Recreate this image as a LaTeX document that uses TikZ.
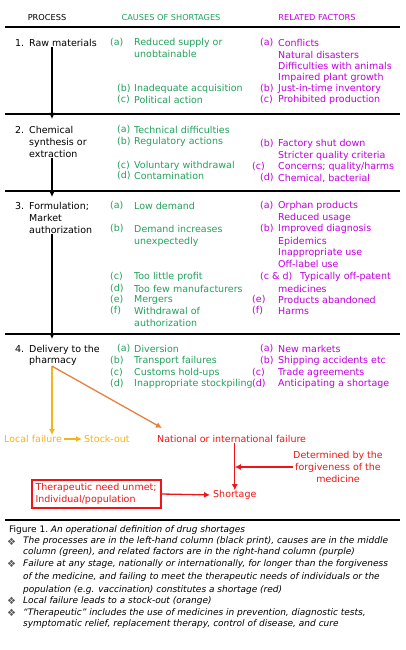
\documentclass[tikz,border=0pt]{standalone}
\usepackage{fontspec}
\setmainfont{DejaVu Sans}
\usetikzlibrary{arrows.meta,positioning}
\definecolor{cgreen}{RGB}{34,160,92}
\definecolor{cpurple}{RGB}{190,0,220}
\definecolor{cred}{RGB}{240,20,20}
\definecolor{corange}{RGB}{232,128,60}
\definecolor{cyellow}{RGB}{245,180,25}

\begin{document}
\begin{tikzpicture}[x=1pt,y=-1pt,
  txt/.style={anchor=west,inner sep=0pt,font=\fontsize{9.5}{11.7}\selectfont},
  proc/.style={txt,align=left},
  cause/.style={txt,text=cgreen},
  fact/.style={txt,text=cpurple},
  hdr/.style={inner sep=0pt,font=\fontsize{8.2}{9}\selectfont},
  captext/.style={anchor=west,inner sep=0pt,font=\fontsize{9}{10}\selectfont},
  rule/.style={line width=1.6pt},
  flow/.style={line width=1.3pt,-{Latex[length=6pt,width=6pt]}}]
 \useasboundingbox (0,0) rectangle (405,650);
 % column heads and rules
 \node[hdr] (hp) at (47,18) {PROCESS};
 \node[hdr,text=cgreen] (hc) at (171,18) {CAUSES OF SHORTAGES};
 \node[hdr,text=cpurple] (hf) at (317,18) {RELATED FACTORS};
 \foreach \y in {27,114,191,334} \draw[rule] (5,\y)--(400,\y);
 \draw[line width=1.3pt] (5,520)--(400,520);
 % process column
 \foreach \y/\n in {43/1,130/2,206/3,349/4} \node[proc] (n\n) at (15,\y) {\n.};
 \node[proc] (p1) at (29,43) {Raw materials};
 \node[proc] (p2) at (29,142) {Chemical\\synthesis or\\extraction};
 \node[proc] (p3) at (29,218) {Formulation;\\Market\\authorization};
 \node[proc] (p4) at (29,355.5) {Delivery to the\\pharmacy};
 \coordinate (ax) at (52,0);
 \coordinate (b1) at (52,119);
 \coordinate (b2) at (52,197);
 \coordinate (b3) at (52,339);
 \draw[flow] (p1.south -| ax)--(b1);
 \draw[flow] (p2.south -| ax)--(b2);
 \draw[flow] (p3.south -| ax)--(b3);
 % causes (green)
 \foreach \y/\x/\l [count=\i] in {43/110/(a),89/117/(b),100/117/(c),
   130/117/(a),142/117/(b),166/117/(c),176/117/(d),
   206/110/(a),229/110/(b),277/110/(c),289/110/(d),300/110/(e),311/110/(f),
   349/117/(a),361/110/(b),373/110/(c),384/110/(d)}
   \node[cause] (cl\i) at (\x,\y) {\l};
 \foreach \y/\t [count=\i] in {43/Reduced supply or,54/unobtainable,
   89/Inadequate acquisition,100/Political action,
   130/Technical difficulties,142/Regulatory actions,
   166/Voluntary withdrawal,176/Contamination,
   206/Low demand,229/Demand increases,242/unexpectedly,
   277/Too little profit,289/Too few manufacturers,300/Mergers,
   311/Withdrawal of,323/authorization,
   349/Diversion,361/Transport failures,373/Customs hold-ups,
   384/Inappropriate stockpiling}
   \node[cause] (ct\i) at (134,\y) {\t};
 % related factors (purple)
 \foreach \y/\x/\l [count=\i] in {43/260/(a),89/260/(b),100/260/(c),
   144/260/(b),167/252/(c),178/260/(d),
   206/260/(a),229/260/(b),277/260/{(c \& d)},300/252/(e),311/252/(f),
   349/260/(a),361/260/(b),373/252/(c),384/252/(d)}
   \node[fact] (fl\i) at (\x,\y) {\l};
 \foreach \y/\x/\t [count=\i] in {43/278/Conflicts,55/278/Natural disasters,
   66/278/Difficulties with animals,78/278/Impaired plant growth,
   89/278/Just-in-time inventory,100/278/Prohibited production,
   144/278/Factory shut down,156/278/Stricter quality criteria,
   167/278/{Concerns; quality/harms},178/278/{Chemical, bacterial},
   206/278/Orphan products,218/278/Reduced usage,
   229/278/Improved diagnosis,242/278/Epidemics,
   253/278/Inappropriate use,264/278/Off-label use,
   277/300/Typically off-patent,289/278/medicines,
   300/278/Products abandoned,311/278/Harms,
   349/278/New markets,361/278/Shipping accidents etc,
   373/278/Trade agreements,384/278/Anticipating a shortage}
   \node[fact] (ft\i) at (\x,\y) {\t};
 % outcomes
 \node[txt,text=cyellow] (lf) at (4,439) {Local failure};
 \node[txt,text=cyellow] (so) at (84,439) {Stock-out};
 \node[txt,text=cred] (nf) at (157,439) {National or international failure};
 \node[txt,text=cred,anchor=center,align=center] (det) at (338,467)
   {Determined by the\\forgiveness of the\\medicine};
 \node[txt,text=cred,anchor=center,align=left,draw=cred,line width=1.4pt,
   text width=122pt,inner sep=3.5pt,minimum height=28pt] (need) at (96.5,494)
   {Therapeutic need unmet;\\Individual/population};
 \node[txt,text=cred] (sh) at (213,495) {Shortage};
 \coordinate (nt) at (162,428);
 \draw[flow,cyellow] (p4.south -| ax)--(lf.north -| ax);
 \draw[flow,corange] (p4.south -| ax)--(nt);
 \draw[flow,cyellow,shorten <=2pt,shorten >=2pt] (lf)--(so);
 \draw[flow,cred] (nf.south -| sh.north)--(sh.north);
 \draw[flow,cred] (det.west)--(det.west -| sh.north);
 \draw[flow,cred,shorten >=3pt] (need.east)--(sh.west);
 % caption
 \node[captext] (fig) at (9,530) {Figure 1.\ \textit{An operational definition of drug shortages}};
 \foreach \y [count=\i] in {541.5,564,601,613}
   \node[captext,text=gray!70!black,font=\fontsize{10}{10}\selectfont] (bu\i) at (7,\y) {❖};
 \foreach \y/\t [count=\i] in {
   541.5/{The processes are in the left-hand column (black print), causes are in the middle},
   552.5/{column (green), and related factors are in the right-hand column (purple)},
   564/{Failure at any stage, nationally or internationally, for longer than the forgiveness},
   577/{of the medicine, and failing to meet the therapeutic needs of individuals or the},
   590.5/{population (e.g. vaccination) constitutes a shortage (red)},
   601/{Local failure leads to a stock-out (orange)},
   613/{“Therapeutic” includes the use of medicines in prevention, diagnostic tests,},
   624/{symptomatic relief, replacement therapy, control of disease, and cure}}
   \node[captext] (ln\i) at (23,\y) {\textit{\t}};
\end{tikzpicture}
\end{document}
